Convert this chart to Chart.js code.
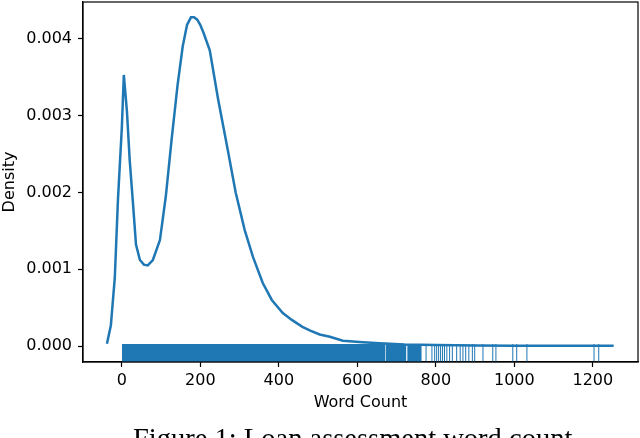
<!DOCTYPE html>
<html>
<head>
<meta charset="utf-8">
<script src="https://cdn.jsdelivr.net/npm/chart.js@4.4.1/dist/chart.umd.min.js"></script>
<style>
    html, body { margin: 0; padding: 0; background: #fff; overflow: hidden; }
    #kde-chart { display: block; }
</style>
</head>
<body>
<canvas id="kde-chart" width="640" height="438"></canvas>
<script>
"use strict";

// courbe de densité
const kdeX = [-38, -28, -18, -10, 0, 5, 13, 20, 28, 36, 46, 56, 66, 79, 97, 112, 127, 142, 155, 166, 176, 184, 192, 200, 208, 224, 245, 270, 290, 313, 334, 359, 382, 410, 433, 460, 480, 504, 530, 563, 614, 657, 720, 800, 900, 1000, 1100, 1253];
const kdeY = [0.00003, 0.00027, 0.00089, 0.0019, 0.00285, 0.00353, 0.00305, 0.00242, 0.00188, 0.00132, 0.00112, 0.00106, 0.00105, 0.00112, 0.00138, 0.00195, 0.0027, 0.0034, 0.0039, 0.00418, 0.00428, 0.00428, 0.00425, 0.00418, 0.00408, 0.00385, 0.00322, 0.00255, 0.002, 0.00151, 0.00116, 0.00082, 0.0006, 0.00043, 0.00034, 0.00025, 0.0002, 0.00015, 0.00012, 0.00007, 0.00005, 0.000035, 0.00002, 0.000012, 0.000008, 0.000005, 0.000004, 0.000003];

// rug : zones pleines puis traits isolés
const rugBands = [[0, 672], [673, 725], [727, 764]];
const rugTicks = [775, 790, 797, 802, 807, 812, 817, 822, 828, 835, 842, 853, 862, 869, 876, 884, 893, 899, 920, 945, 953, 996, 1006, 1032, 1203, 1215];

const xTicks = [0, 200, 400, 600, 800, 1000, 1200];
const yTicks = [0, 0.001, 0.002, 0.003, 0.004];

const xMin = -99, xMax = 1315;
const yMin = -0.000208, yMax = 0.00448;
const rugTop = yMin + 0.05 * (yMax - yMin);

const blue = '#1f77b4';

/**
 * Cadre complet (haut et droite) comme matplotlib
 */
const boxFrame = {
    id: 'boxFrame',
    afterDraw(chart) {
        const {ctx, chartArea: {left, top, right, bottom}} = chart;
        ctx.save();
        ctx.strokeStyle = '#000';
        ctx.lineWidth = 1.2;
        ctx.strokeRect(left, top, right - left, bottom - top);
        ctx.restore();
    }
};

/**
 * Légende de la figure, en bas (coupée)
 */
const caption = {
    id: 'caption',
    afterDraw(chart, args, options) {
        const ctx = chart.ctx;
        ctx.save();
        ctx.fillStyle = '#000';
        ctx.textBaseline = 'alphabetic';
        ctx.textAlign = 'left';
        let size = 26;
        ctx.font = size + "px 'Liberation Serif'";
        size = size * options.width / ctx.measureText(options.text).width;
        ctx.font = size.toFixed(1) + "px 'Liberation Serif'";
        ctx.fillText(options.text, options.x, options.y);
        ctx.restore();
    }
};

const datasets = [];

rugBands.forEach(([a, b]) => {
    datasets.push({
        data: [{x: a, y: rugTop}, {x: b, y: rugTop}],
        showLine: true,
        borderWidth: 0,
        borderColor: blue,
        backgroundColor: blue,
        fill: {value: yMin},
        pointRadius: 0
    });
});

const rugPoints = [];
rugTicks.forEach(v => {
    rugPoints.push({x: v, y: yMin}, {x: v, y: rugTop}, {x: v, y: null});
});
datasets.push({
    data: rugPoints,
    showLine: true,
    spanGaps: false,
    borderWidth: 1,
    borderColor: blue,
    pointRadius: 0
});

datasets.push({
    data: kdeX.map((x, i) => ({x: x, y: kdeY[i]})),
    showLine: true,
    borderWidth: 2.5,
    borderColor: blue,
    tension: 0,
    pointRadius: 0
});

const tickFont = {family: "'DejaVu Sans'", size: 16};

new Chart(document.getElementById('kde-chart'), {
    type: 'scatter',
    data: {datasets: datasets},
    options: {
        responsive: false,
        animation: false,
        events: [],
        layout: {autoPadding: false, padding: {left: 0, top: 2, right: 2, bottom: 25.4}},
        plugins: {
            legend: {display: false},
            tooltip: {enabled: false},
            caption: {text: 'Figure 1: Loan assessment word count', x: 133, y: 448, width: 439}
        },
        scales: {
            x: {
                type: 'linear',
                min: xMin,
                max: xMax,
                afterBuildTicks: scale => { scale.ticks = xTicks.map(v => ({value: v})); },
                afterFit: scale => {
                    scale.height = 50.6;
                    scale.paddingLeft = 0;
                    scale.paddingRight = 0;
                },
                ticks: {
                    color: '#000',
                    font: tickFont,
                    padding: 4,
                    maxRotation: 0,
                    callback: v => String(v)
                },
                grid: {drawOnChartArea: false, drawTicks: true, tickLength: 5, color: '#000', tickWidth: 1.2},
                border: {display: true, color: '#000', width: 1.2},
                title: {display: true, text: 'Word Count', color: '#000', font: tickFont, padding: 0}
            },
            y: {
                type: 'linear',
                min: yMin,
                max: yMax,
                afterBuildTicks: scale => { scale.ticks = yTicks.map(v => ({value: v})); },
                afterFit: scale => {
                    scale.width = 83;
                    scale.paddingTop = 0;
                    scale.paddingBottom = 0;
                },
                ticks: {
                    color: '#000',
                    font: tickFont,
                    padding: 6,
                    callback: v => v.toFixed(3)
                },
                grid: {drawOnChartArea: false, drawTicks: true, tickLength: 5, color: '#000', tickWidth: 1.2},
                border: {display: true, color: '#000', width: 1.2},
                title: {display: true, text: 'Density', color: '#000', font: tickFont, padding: 0}
            }
        }
    },
    plugins: [boxFrame, caption]
});
</script>
</body>
</html>
